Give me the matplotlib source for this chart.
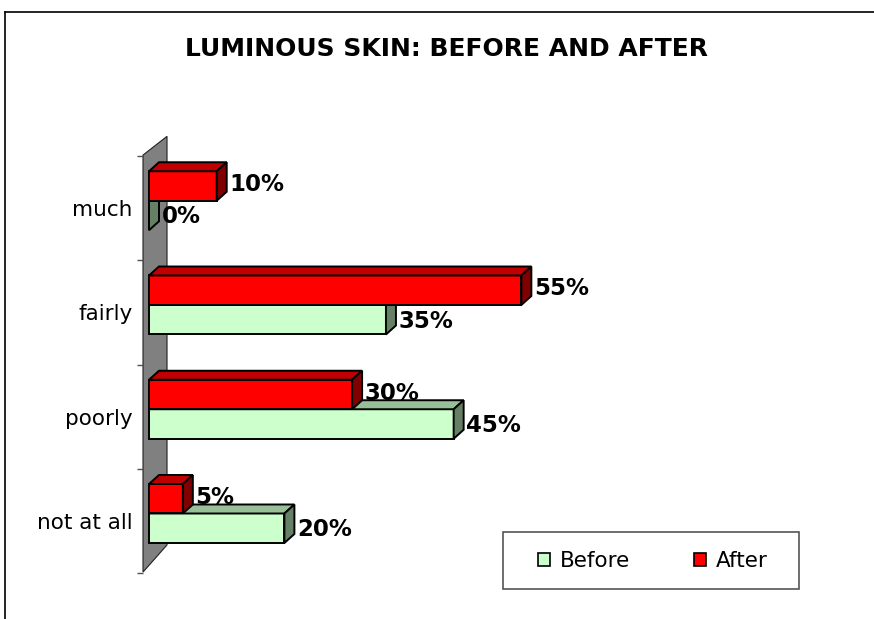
import matplotlib.pyplot as plt
from matplotlib.patches import Polygon, Rectangle, Patch
from matplotlib.lines import Line2D

# data
categories = ['not at all', 'poorly', 'fairly', 'much']
before = [20, 45, 35, 0]
after = [5, 30, 55, 10]
series_names = ['Before', 'After']
title = 'LUMINOUS SKIN: BEFORE AND AFTER'

# colours (front, top, side)
green = ('#CCFFCC', '#99BF99', '#668066')
red = ('#FF0000', '#C00000', '#800000')

W, H = 874, 619
fig = plt.figure(figsize=(W / 100, H / 100), dpi=100)

# axes placed in pixel terms
k = 6.77          # px per percent
step = 104.25     # px per category
left_px, right_px, top_px, bot_px = 137, 870, 125, 590
ax = fig.add_axes([left_px / W, 1 - bot_px / H, (right_px - left_px) / W, (bot_px - top_px) / H])
ax.set_xlim((left_px - 149) / k, (right_px - 149) / k)
ax.set_ylim((521 - bot_px) / step, (521 - top_px) / step)

# 3d depth in data units
dx = 10 / k
dy = 9 / step
h = 0.283
base_off = -0.211

# gray wall
wall = Polygon([(-0.886, -0.49), (-0.886, 3.51), (2.66, 3.69), (2.66, -0.23)],
               closed=True, facecolor='#808080', edgecolor='#202020', lw=0.8, zorder=1)
ax.add_patch(wall)


def bar3d(v, y0, cols):
    y1 = y0 + h
    ax.add_patch(Rectangle((0, y0), v, h, facecolor=cols[0], edgecolor='black', lw=1.4, zorder=3))
    ax.add_patch(Polygon([(0, y1), (v, y1), (v + dx, y1 + dy), (dx, y1 + dy)],
                         closed=True, facecolor=cols[1], edgecolor='black', lw=1.4, zorder=3))
    ax.add_patch(Polygon([(v, y0), (v, y1), (v + dx, y1 + dy), (v + dx, y0 + dy)],
                         closed=True, facecolor=cols[2], edgecolor='black', lw=1.4, zorder=3))


for i in range(len(categories)):
    yb = i + base_off
    bar3d(before[i], yb, green)
    ax.annotate(f'{before[i]}%', (before[i] + dx, yb + h / 2), xytext=(2, -1), textcoords='offset points',
                ha='left', va='center', fontsize=16.5, fontweight='bold', zorder=5)
    bar3d(after[i], yb + h, red)
    ax.annotate(f'{after[i]}%', (after[i] + dx, yb + 1.5 * h), xytext=(2, 1), textcoords='offset points',
                ha='left', va='center', fontsize=16.5, fontweight='bold', zorder=5)

ax.set_yticks(range(len(categories)))
ax.set_yticklabels(categories, fontsize=15.5)
ax.tick_params(axis='y', which='major', length=0, pad=3)
ax.set_yticks([i - 0.5 for i in range(len(categories) + 1)], minor=True)
ax.tick_params(axis='y', which='minor', direction='in', length=4.3, color='#505050', width=1)
ax.set_xticks([])
for s in ax.spines.values():
    s.set_visible(False)

fig.text(447 / W, 1 - 56 / H, title, ha='center', va='baseline', fontsize=18, fontweight='bold')

# legend box
fig.add_artist(Rectangle((503 / W, 1 - 589 / H), 296 / W, 57 / H, transform=fig.transFigure,
                         facecolor='white', edgecolor='#555555', lw=1.2, zorder=4))
handles = [Patch(facecolor=green[0], edgecolor='black', lw=1.2),
           Patch(facecolor=red[0], edgecolor='black', lw=1.2)]
fig.legend(handles, series_names, loc='center', bbox_to_anchor=(653 / W, 1 - 561 / H), ncol=2,
           frameon=False, fontsize=15.5, handlelength=0.55, handleheight=0.55,
           handletextpad=0.45, columnspacing=3.0)

# outer border
fig.add_artist(Line2D([5 / W, 1], [1 - 12 / H, 1 - 12 / H], color='black', lw=1.2, transform=fig.transFigure))
fig.add_artist(Line2D([5 / W, 5 / W], [0, 1 - 12 / H], color='black', lw=1.2, transform=fig.transFigure))

fig.savefig('out.png', dpi=100)
